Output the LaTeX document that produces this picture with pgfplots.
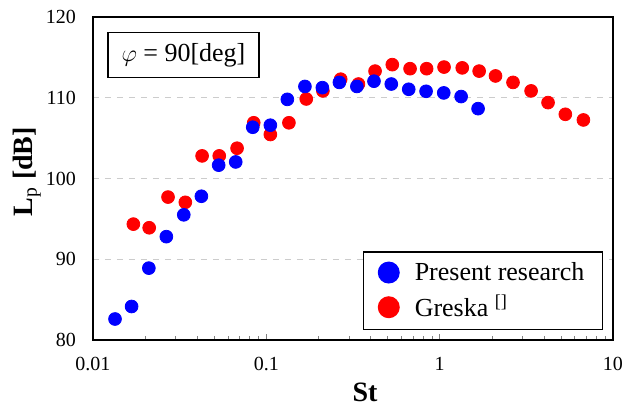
\documentclass[border=0pt]{standalone}
\usepackage{pgfplots}
\pgfplotsset{compat=1.18}
\usepackage{fontspec}
\setmainfont{Liberation Serif}

\begin{document}
\begin{tikzpicture}
\begin{axis}[
    name=main,
    xmode=log,
    scale only axis,
    width=260pt, height=161.5pt,
    xmin=0.01, xmax=10,
    ymin=80, ymax=120,
    ytick={80,90,100,110,120},
    xtick={0.01,0.1,1,10},
    xticklabels={0.01,0.1,1,10},
    xtick pos=bottom,
    xtick align=inside,
    major tick length=3pt,
    minor tick length=2pt,
    ytick style={draw=none},
    /pgf/number format/assume math mode=true,
    tick label style={font=\fontsize{10}{12}\selectfont},
    xticklabel style={yshift=-5pt},
    yticklabel style={xshift=-5pt},
    ymajorgrids=true,
    grid style={gray!40, dashed, line width=0.4pt},
    axis line style={line width=0.6pt},
    xlabel={\textbf{St}},
    xlabel style={font=\fontsize{14}{16}\selectfont, at={(axis description cs:0.523,-0.161)}, anchor=center},
    ylabel={\textbf{L}$_{\mathrm{p}}$ \textbf{[dB]}},
    ylabel style={font=\fontsize{14}{16}\selectfont, at={(axis description cs:-0.127,0.521)}, anchor=center, rotate=0},
    legend style={
        at={(1,0)}, anchor=south east,
        xshift=-5pt, yshift=5pt,
        font=\fontsize{13}{15}\selectfont,
        draw=black, line width=0.6pt,
        inner xsep=7pt, inner ysep=3pt,
        row sep=2pt,
        cells={anchor=west},
    },
    reverse legend,
]

% Greska
\addplot[only marks, mark=*, color=red, mark size=3.2pt,
    legend image code/.code={\fill[red, draw=none] (0pt,0pt) circle (5.5pt); \path[draw=none, fill=none] (-5.5pt,0pt) rectangle (11pt,0.1pt);}]
    coordinates {
    (0.0171,94.35)(0.0211,93.9)(0.0271,97.7)(0.0341,97.05)(0.0426,102.8)
    (0.0535,102.8)(0.0678,103.75)(0.0846,106.9)(0.1055,105.45)(0.135,106.9)
    (0.170,109.85)(0.212,110.85)(0.2686,112.3)(0.340,111.7)(0.424,113.3)
    (0.533,114.1)(0.675,113.6)(0.841,113.6)(1.06,113.8)(1.35,113.7)
    (1.69,113.3)(2.10,112.7)(2.65,111.9)(3.37,110.85)(4.22,109.4)
    (5.31,107.95)(6.75,107.25)
    };
\addlegendentry{Greska \textsuperscript{[]}}

% Present research
\addplot[only marks, mark=*, color=blue, mark size=3.2pt,
    legend image code/.code={\fill[blue, draw=none] (0pt,0pt) circle (5.5pt); \path[draw=none, fill=none] (-5.5pt,0pt) rectangle (11pt,0.1pt);}]
    coordinates {
    (0.0134,82.6)(0.0167,84.15)(0.0210,88.9)(0.0265,92.8)(0.0334,95.5)
    (0.0422,97.8)(0.0531,101.65)(0.0666,102.05)(0.0835,106.35)(0.1055,106.6)
    (0.1322,109.8)(0.167,111.4)(0.2105,111.25)(0.264,111.9)(0.333,111.4)
    (0.418,112.05)(0.526,111.7)(0.663,111.05)(0.835,110.8)(1.056,110.6)
    (1.33,110.15)(1.666,108.65)
    };
\addlegendentry{Present research}

\node[draw=black, line width=0.6pt, minimum width=75.5pt, minimum height=22.5pt,
      font=\fontsize{13}{15}\selectfont]
    at (rel axis cs:0.174,0.883) {$\varphi$ = 90[deg]};
\end{axis}
\pgfresetboundingbox
\useasboundingbox ([shift={(-46.5pt,-34pt)}]main.south west) rectangle ([shift={(5pt,8.5pt)}]main.north east);
\end{tikzpicture}
\end{document}
